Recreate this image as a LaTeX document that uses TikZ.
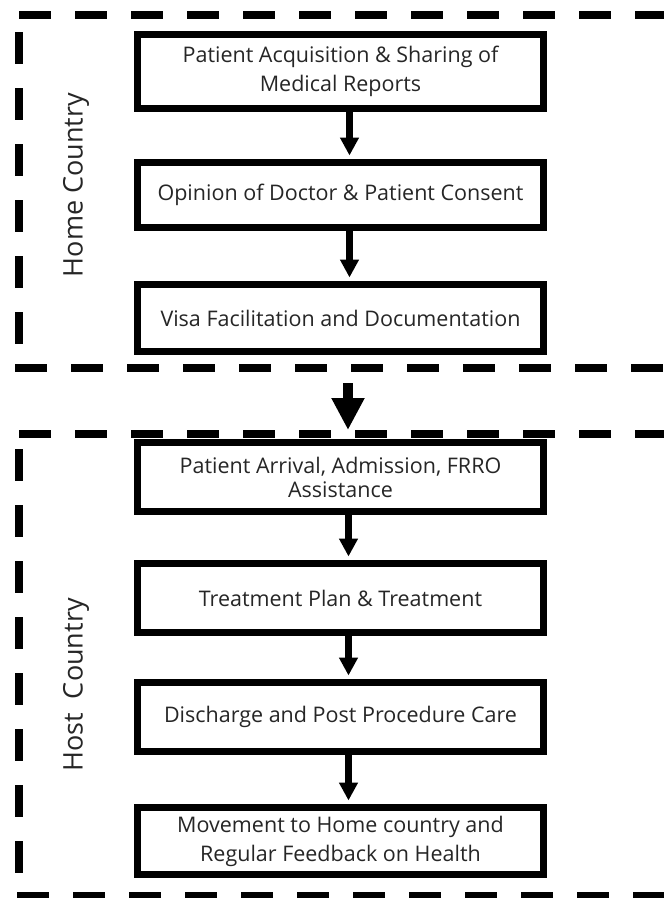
\documentclass[tikz,border=0pt]{standalone}
\usepackage{fontspec}
\setmainfont{Open Sans}
\usetikzlibrary{arrows.meta}
\definecolor{txt}{RGB}{38,38,38}
\begin{document}
\begin{tikzpicture}[x=1pt,y=-1pt,
  stepbox/.style={draw=black,line width=7pt,minimum width=406pt,inner sep=0pt,align=center,text=txt,font=\fontsize{21.5}{29}\selectfont},
  flow/.style={line width=6.7pt,-{Triangle[width=18pt,length=18pt]},shorten >=3.5pt},
  bigflow/.style={line width=10pt,-{Triangle[width=31pt,length=32pt]}},
  frame/.style={line width=8pt,dash pattern=on 31.5pt off 24.5pt},
  side/.style={text=txt,font=\fontsize{27}{32}\selectfont,rotate=90,inner sep=0pt}]
\clip (0,0) rectangle (664,898);
\fill[white] (0,0) rectangle (664,898);
% frames
\draw[frame] (19,14.5) -- (720,14.5);
\draw[frame] (19,32) -- (19,368);
\draw[frame] (15,368) -- (720,368);
\draw[frame] (19,433.5) -- (720,433.5);
\draw[frame] (19,449) -- (19,896);
\draw[frame] (17,896) -- (720,896);
% side labels
\node[side] (home) at (76,185) {Home Country};
\node[side] (host) at (76,685) {Host\ \ Country};
% boxes
\node[stepbox,minimum height=74pt] (b1) at (340.5,71.5) {\raisebox{-1.5pt}{Patient Acquisition \& Sharing of}\\\raisebox{-1.5pt}{Medical Reports}};
\node[stepbox,minimum height=65pt] (b2) at (340.5,195) {\raisebox{-2pt}{Opinion of Doctor \& Patient Consent}};
\node[stepbox,minimum height=67pt] (b3) at (340.5,318) {\raisebox{-2pt}{Visa Facilitation and Documentation}};
\node[stepbox,minimum height=69pt,font=\fontsize{21.5}{24}\selectfont] (b4) at (340.5,477) {\raisebox{-1.5pt}{Patient Arrival, Admission, FRRO}\\\raisebox{-1.5pt}{Assistance}};
\node[stepbox,minimum height=69pt] (b5) at (340.5,598) {\raisebox{-2pt}{Treatment Plan \& Treatment}};
\node[stepbox,minimum height=69pt] (b6) at (340.5,717) {\raisebox{-2pt}{Discharge and Post Procedure Care}};
\node[stepbox,minimum height=67pt] (b7) at (340.5,841) {\raisebox{-1.5pt}{Movement to Home country and}\\\raisebox{-1.5pt}{Regular Feedback on Health}};
% arrows
\draw[flow] ([xshift=9pt]b1.south) -- ([xshift=9pt]b2.north);
\draw[flow] ([xshift=9pt]b2.south) -- ([xshift=9pt]b3.north);
\draw[flow] ([xshift=8pt]b4.south) -- ([xshift=8pt]b5.north);
\draw[flow] ([xshift=8pt]b5.south) -- ([xshift=8pt]b6.north);
\draw[flow] ([xshift=8pt]b6.south) -- ([xshift=8pt]b7.north);
\coordinate (bs) at (348,383);
\coordinate (be) at (348,430);
\draw[bigflow] (bs) -- (be);
\end{tikzpicture}
\end{document}
